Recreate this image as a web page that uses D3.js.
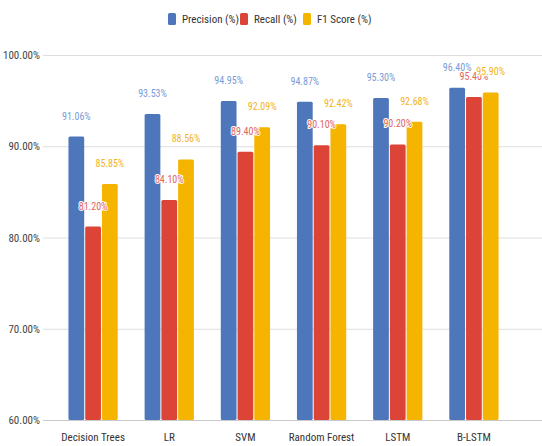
<!DOCTYPE html>
<html>
<head>
<meta charset="utf-8">
<script src="https://cdn.jsdelivr.net/npm/d3@7"></script>
<style>
  body { margin: 0; background: #fff; }
  text { font-family: "Liberation Sans Narrow", "Roboto Condensed", Roboto, sans-serif; }
</style>
</head>
<body>
<div id="chart"></div>
<script>
const models = ["Decision Trees", "LR", "SVM", "Random Forest", "LSTM", "B-LSTM"];
const seriesNames = ["Precision (%)", "Recall (%)", "F1 Score (%)"];
const precision = [91.06, 93.53, 94.95, 94.87, 95.30, 96.40];
const recall = [81.20, 84.10, 89.40, 90.10, 90.20, 95.40];
const f1 = [85.85, 88.56, 92.09, 92.42, 92.68, 95.90];
const yTicks = [60, 70, 80, 90, 100];

const W = 542, H = 446;
const colors = ["#4e76bb", "#dc4437", "#f4b400"];
const labelColors = ["#7a9bd6", "#e2655a", "#f2b41c"];
const seriesVals = [precision, recall, f1];

const svg = d3.select("#chart").append("svg")
  .attr("width", W).attr("height", H);

const x0 = d3.scaleBand().domain(models).range([55, 512]).paddingInner(0.34).paddingOuter(0.17);
const x1 = d3.scaleBand().domain(d3.range(3)).range([0, x0.bandwidth()]);
const y = d3.scaleLinear().domain([60, 100]).range([420, 55]);

// gridlines
svg.append("g").selectAll("line").data(yTicks).join("line")
  .attr("x1", 43).attr("x2", W)
  .attr("y1", d => y(d) + 0.5).attr("y2", d => y(d) + 0.5)
  .attr("stroke", d => d === 60 ? "#c8c8c8" : "#dedede")
  .attr("stroke-width", 1);

svg.append("g").selectAll("text").data(yTicks).join("text")
  .attr("x", 40).attr("y", d => y(d) + 4)
  .attr("text-anchor", "end")
  .attr("font-size", 11).attr("fill", "#444")
  .text(d => d.toFixed(2) + "%");

// bars
const groups = svg.append("g").selectAll("g").data(models).join("g")
  .attr("transform", d => `translate(${x0(d)},0)`);

groups.selectAll("rect").data((m, i) => seriesVals.map((s, k) => ({ k, v: s[i] }))).join("rect")
  .attr("x", d => x1(d.k) + 0.5)
  .attr("width", x1.bandwidth() - 1)
  .attr("y", d => y(d.v))
  .attr("height", d => y(60) - y(d.v))
  .attr("rx", 1.5)
  .attr("fill", d => colors[d.k]);

// value labels
const labelLayer = svg.append("g");
models.forEach((m, i) => {
  seriesVals.forEach((s, k) => {
    labelLayer.append("text")
      .attr("x", x0(m) + x1(k) + x1.bandwidth() / 2)
      .attr("y", y(s[i]) - 17)
      .attr("text-anchor", "middle")
      .attr("font-size", 10)
      .attr("fill", labelColors[k])
      .attr("stroke", "#fff").attr("stroke-width", 2)
      .attr("paint-order", "stroke")
      .text(s[i].toFixed(2) + "%");
  });
});

// category labels
svg.append("g").selectAll("text").data(models).join("text")
  .attr("x", d => x0(d) + x0.bandwidth() / 2)
  .attr("y", 441)
  .attr("text-anchor", "middle")
  .attr("font-size", 11).attr("fill", "#333")
  .text(d => d);

// legend
const legendX = [168, 240, 303];
const leg = svg.append("g").selectAll("g").data(seriesNames).join("g")
  .attr("transform", (d, i) => `translate(${legendX[i]},13)`);
leg.append("rect").attr("width", 8).attr("height", 12).attr("rx", 1.5)
  .attr("fill", (d, i) => colors[i]);
leg.append("text").attr("x", 14).attr("y", 10)
  .attr("font-size", 11).attr("fill", "#333")
  .text(d => d);
</script>
</body>
</html>
